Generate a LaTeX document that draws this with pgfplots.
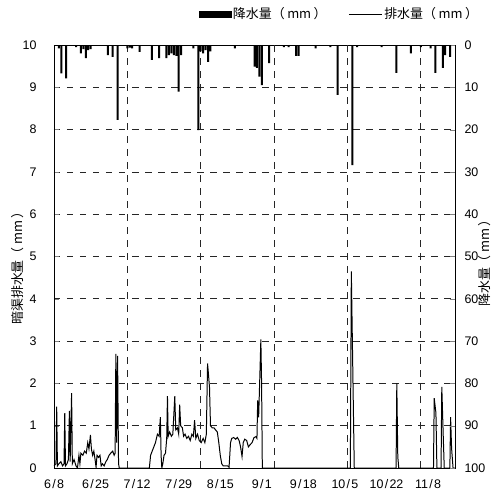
\documentclass[border=0pt]{standalone}
\usepackage{fontspec}
\setmainfont{Liberation Sans}
\newfontfamily\cjk{Noto Sans CJK JP}
\usepackage{pgfplots}
\pgfplotsset{compat=1.18}

\newcommand\dt[2]{#1\kern1.3bp/\kern1.3bp#2}
\newcommand\mmu{（\kern2.5bp mm\kern2.5bp）}

\pgfplotsset{
  chartbase/.style={
    scale only axis, width=401bp, height=423bp,
    at={(0,0)}, anchor=south west,
    xmin=0, xmax=164,
    /pgf/number format/assume math mode=true,
    tick label style={font=\fontsize{12.5}{14}\selectfont},
    tick align=inside,
    major tick length=5bp,
    axis line style={line width=0.8pt},
  }
}

\begin{document}
\begin{tikzpicture}
\path[use as bounding box] (-54bp,-29bp) rectangle (437bp,468bp);

% discharge, left axis
\begin{axis}[chartbase,
  ymin=0, ymax=10, ytick={0,1,...,10},
  ytick pos=left,
  xtick={0,17,34,51,68,85,102,119,136,153},
  xticklabels={\dt{6}{8},\dt{6}{25},\dt{7}{12},\dt{7}{29},\dt{8}{15},\dt{9}{1},\dt{9}{18},\dt{10}{5},\dt{10}{22},\dt{11}{8}},
  xtick pos=bottom,
  xtick style={draw=none},
  extra x ticks={30,60,90,120,150},
  extra x tick labels={},
  extra x tick style={grid=major, tick style={draw=none}},
  ymajorgrids,
  grid style={black!85, line width=0.6pt, dash pattern=on 6.5bp off 6.5bp},
  yticklabel style={xshift=-14bp},
  xticklabel style={yshift=-8bp},
]
\addplot[black, line width=1pt] coordinates {
(0,0.05) (0.8,0.1) (1.1,1.45) (1.4,0.05) (2,0.1) (2.8,0.15) (3.5,0.05) (4.1,0.1)
(4.4,1.3) (4.7,0.05) (5.3,0.1) (5.9,0.2) (6.3,1.35) (6.6,0.15) (7.2,1.77) (7.5,0.1)
(8.2,0.2) (9,0.05) (9.6,0) (10.2,0.3) (10.6,0.1) (11,0.35) (11.8,0.3) (12.5,0.4)
(13.2,0.35) (13.8,0.6) (14.3,0.45) (14.9,0.78) (15.3,0.45) (15.8,0.3) (16.3,0.4)
(16.8,0.2) (17.2,0.02) (17.6,0.3) (18.2,0.25) (18.8,0.3) (19.3,0.05) (19.8,0.1)
(20.5,0.05) (21.2,0.15) (21.8,0.2) (22.5,0.3) (23.2,0.35) (24,0.4) (24.6,0.3)
(25,0.35) (25.3,2.7) (25.6,0.6) (26,2.65) (26.4,0.1) (26.7,0) (39,0) (39.5,0.3)
(40.5,0.45) (41.5,0.6) (42.3,0.8) (43,0.75) (43.5,1.2) (43.8,0.3) (44.1,0) (44.5,0.1)
(45,0.3) (45.6,0.35) (46.1,0.7) (46.4,1.7) (46.7,0.75) (47.3,0.85) (48,0.75) (48.6,0.8)
(49.4,1.7) (49.8,0.9) (50.5,0.95) (51,0.8) (51.4,1.5) (51.8,1.0) (52.5,0.95) (53,0.75)
(53.6,0.8) (54.3,0.7) (55,0.75) (55.7,0.65) (56.4,0.8) (57,0.75) (57.5,1.13) (58,0.7)
(58.7,0.8) (59.4,0.65) (60.2,0.6) (61,0.7) (61.7,0.6) (62.3,0.8) (62.8,2.47) (63.2,2.2)
(63.6,1.9) (64,1.0) (64.7,0.95) (65.4,0.95) (66.1,0.9) (66.8,0.85) (67.4,0.6) (68,0.3)
(68.6,0.1) (69.2,0.05) (70,0.05) (71,0.05) (71.6,0.02) (72.2,0.6) (72.7,0.7) (73.5,0.72)
(74.3,0.68) (75,0.72) (75.7,0.65) (76.3,0.5) (76.9,0.27) (77.4,0.6) (78,0.68) (78.8,0.65)
(79.5,0.5) (80.2,0.55) (81,0.6) (81.8,0.72) (82.6,0.74) (83,0.7) (83.3,1.6) (83.7,1.2)
(84.2,2.2) (84.6,3.04) (84.9,2.0) (85.2,0) (121.2,0) (121.6,4.65) (122.8,0)
(139.9,0) (140.2,2.0) (140.6,0.27) (141,0) (155.2,0) (155.5,1.65) (156.2,1.3) (156.6,0)
(158.3,0) (158.6,1.92) (159.2,0.74) (159.6,0) (161.9,0) (162.2,1.2) (162.6,0.47)
(163.2,0) (164,0)
};
\end{axis}

% precipitation, right axis (reversed)
\begin{axis}[chartbase,
  ymin=0, ymax=100, y dir=reverse, ytick={0,10,...,100},
  axis y line*=right, axis x line=none,
  yticklabel style={xshift=6bp, anchor=west},
  legend style={draw=none, fill=none, inner sep=0pt,
    at={(axis description cs:0.36,1.073)}, anchor=west,
    font=\cjk\fontsize{13}{15}\selectfont,
    /tikz/every even column/.append style={column sep=20bp}},
  legend columns=2,
]
\addplot[ybar, bar width=2bp, fill=black, draw=none, forget plot] coordinates {
(2,0.8) (3,6.7) (5,7.9) (9,0.5) (11,2.0) (12,1.0) (13,3.1) (14,1.2) (15,1.0)
(22,2.4) (24,2.8) (26,17.7) (30,0.8) (31,0.6) (32,0.8) (35,1.6) (40,3.5) (43,3.1)
(46,3.1) (47,2.4) (48,2.0) (49,2.4) (50,2.6) (51,11.0) (52,2.4) (57,0.8) (59,20.1)
(60,1.5) (61,2.0) (62,1.2) (63,4.0) (64,1.5) (74,0.8) (82,5.1) (83,5.4) (84,7.5)
(85,9.5) (88,4.3) (94,0.5) (96,0.5) (99,2.6) (100,2.6) (107,0.8) (113,0.5) (116,11.8)
(122,28.4) (124,0.5) (134,0.5) (140,6.6) (146,2.0) (150,0.5) (154,0.8) (156,6.6)
(159,5.4) (160,2.4) (162,2.8)
};
\addlegendimage{legend image code/.code={\fill[black] (0bp,-3bp) rectangle (32bp,3bp);}}
\addlegendentry{降水量\mmu}
\addlegendimage{legend image code/.code={\draw[black, line width=0.6pt] (0bp,0bp) -- (33bp,0bp);}}
\addlegendentry{排水量\mmu}
\end{axis}

\node[rotate=90, font=\cjk\fontsize{13}{15}\selectfont] at (-36bp,203bp) {暗渠排水量\mmu};
\node[rotate=90, font=\cjk\fontsize{13}{15}\selectfont] at (431bp,208bp) {降水量\mmu};
\end{tikzpicture}
\end{document}
